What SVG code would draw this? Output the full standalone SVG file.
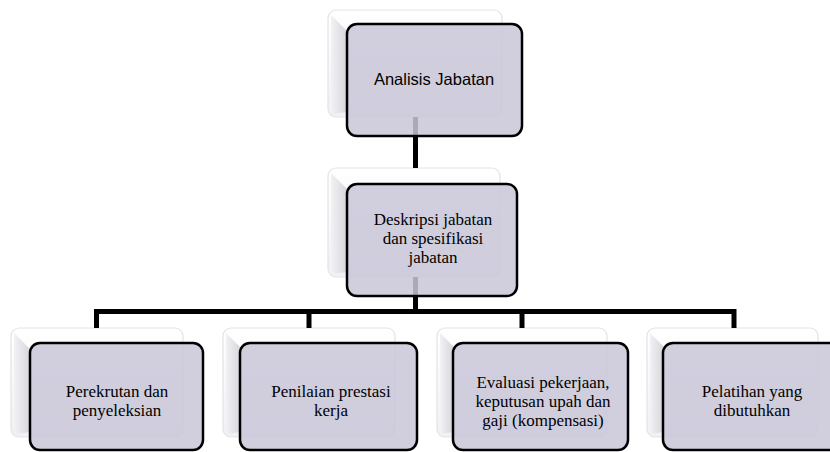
<svg xmlns="http://www.w3.org/2000/svg" width="830" height="452" viewBox="0 0 830 452">
  <defs>
    <linearGradient id="bg" x1="0" y1="0" x2="0" y2="1">
      <stop offset="0" stop-color="#ffffff"/>
      <stop offset="1" stop-color="#f1f1f4"/>
    </linearGradient>
    <linearGradient id="bevel" x1="0" y1="0" x2="1" y2="0">
      <stop offset="0" stop-color="#f2f2f5"/>
      <stop offset="1" stop-color="#d6d6dc"/>
    </linearGradient>
  </defs>
  <style>
    .back { fill: url(#bg); stroke: #e3e3e8; stroke-width: 1.2; }
    .bevel { fill: url(#bevel); stroke: none; }
    .front { fill: #c9c7d8; fill-opacity: 0.85; stroke: #000; stroke-width: 2.5; }
    .conn { fill: none; stroke: #000; stroke-width: 5; stroke-linejoin: miter; }
    .sans { font-family: "Liberation Sans", Arial, sans-serif; font-size: 16.5px; fill: #000; text-anchor: middle; }
    .serif { font-family: "Liberation Serif", "Times New Roman", serif; font-size: 17px; fill: #000; text-anchor: middle; }
  </style>

  <g id="back-layer">
    <g id="back-analisis">
      <rect class="back" x="328" y="10" width="174" height="107" rx="8"/>
      <polygon class="bevel" points="331,15 347,31 347,112 331,114"/>
    </g>
    <g id="back-deskripsi">
      <rect class="back" x="328" y="168" width="172" height="109" rx="8"/>
      <polygon class="bevel" points="331,173 347,189 347,272 331,274"/>
    </g>
    <g id="back-perekrutan">
      <rect class="back" x="11" y="328" width="172" height="109" rx="8"/>
      <polygon class="bevel" points="14,333 30,349 30,432 14,434"/>
    </g>
    <g id="back-penilaian">
      <rect class="back" x="223" y="328" width="172" height="109" rx="8"/>
      <polygon class="bevel" points="226,333 240,347 240,432 226,434"/>
    </g>
    <g id="back-evaluasi">
      <rect class="back" x="437" y="328" width="170" height="109" rx="8"/>
      <polygon class="bevel" points="440,333 453,346 453,432 440,434"/>
    </g>
    <g id="back-pelatihan">
      <rect class="back" x="647" y="328" width="171" height="109" rx="8"/>
      <polygon class="bevel" points="650,333 663,346 663,432 650,434"/>
    </g>
  </g>

  <g id="connectors">
    <path class="conn" d="M415.5,117 V168"/>
    <path class="conn" d="M415.5,277 V311.5"/>
    <path class="conn" d="M96.5,328 V311.5 H734 V328"/>
    <path class="conn" d="M309,311.5 V328"/>
    <path class="conn" d="M522,311.5 V328"/>
  </g>

  <g id="node-analisis">
    <rect class="front" x="347" y="24" width="175" height="112" rx="10"/>
    <text class="sans" x="434" y="85">Analisis Jabatan</text>
  </g>
  <g id="node-deskripsi">
    <rect class="front" x="347" y="184" width="170" height="112" rx="10"/>
    <text class="serif" x="433" y="224.5">Deskripsi jabatan<tspan x="433" dy="19">dan spesifikasi</tspan><tspan x="433" dy="19">jabatan</tspan></text>
  </g>
  <g id="node-perekrutan">
    <rect class="front" x="30" y="343" width="173" height="107" rx="10"/>
    <text class="serif" x="117" y="396.5">Perekrutan dan<tspan x="117" dy="19">penyeleksian</tspan></text>
  </g>
  <g id="node-penilaian">
    <rect class="front" x="240" y="343" width="177" height="107" rx="10"/>
    <text class="serif" x="331" y="396.5">Penilaian prestasi<tspan x="331" dy="19">kerja</tspan></text>
  </g>
  <g id="node-evaluasi">
    <rect class="front" x="453" y="343" width="175" height="107" rx="10"/>
    <text class="serif" x="543" y="388">Evaluasi pekerjaan,<tspan x="543" dy="19">keputusan upah dan</tspan><tspan x="543" dy="19">gaji (kompensasi)</tspan></text>
  </g>
  <g id="node-pelatihan">
    <rect class="front" x="663" y="343" width="179" height="107" rx="10"/>
    <text class="serif" x="752" y="396.5">Pelatihan yang<tspan x="752" dy="19">dibutuhkan</tspan></text>
  </g>
</svg>
